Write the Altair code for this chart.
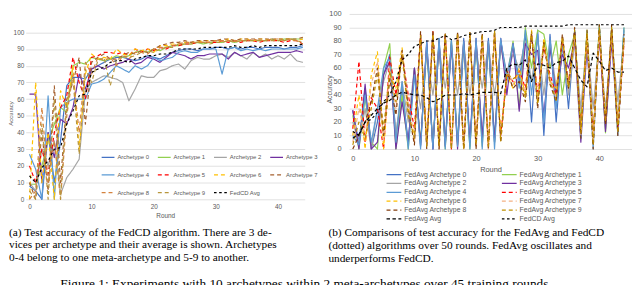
import altair as alt
import pandas as pd

# ---------------- data: panel (a) FedCD, rounds 0-44 ----------------
rounds_a = list(range(45))
names_a = [f"Archetype {i}" for i in range(10)] + ["FedCD Avg"]
arch_a = {
    "Archetype 0": [8, 5, 0, 40, 10, 35, 68, 73, 73, 72, 78, 80, 82, 84, 85, 85, 84, 83, 84, 86, 85, 84, 86, 88, 89, 90, 90, 89, 90, 90, 91, 91, 90, 91, 90, 91, 91, 90, 91, 91, 91, 90, 91, 91, 92],
    "Archetype 1": [9, 9, 20, 35, 45, 55, 52, 80, 82, 81, 85, 84, 83, 84, 86, 85, 86, 88, 89, 88, 90, 89, 91, 92, 92, 93, 93, 94, 93, 94, 94, 94, 95, 94, 95, 95, 95, 95, 95, 96, 95, 96, 96, 96, 96],
    "Archetype 2": [10, 5, 30, 20, 35, 3, 13, 18, 24, 65, 70, 72, 74, 73, 72, 70, 59, 66, 74, 73, 73, 77, 78, 80, 81, 78, 83, 85, 84, 84, 86, 87, 85, 88, 86, 84, 88, 85, 87, 84, 86, 84, 87, 83, 82],
    "Archetype 3": [63, 63, 10, 40, 25, 48, 45, 55, 75, 66, 78, 80, 78, 80, 81, 82, 84, 81, 82, 85, 84, 82, 85, 88, 87, 86, 84, 86, 86, 87, 87, 87, 84, 88, 86, 87, 88, 85, 86, 87, 88, 88, 88, 89, 88],
    "Archetype 4": [27, 18, 0, 62, 0, 55, 58, 60, 60, 60, 69, 70, 72, 76, 80, 78, 76, 80, 78, 80, 85, 83, 84, 85, 88, 89, 88, 88, 90, 90, 90, 75, 90, 91, 89, 90, 89, 90, 89, 90, 90, 90, 90, 90, 91],
    "Archetype 5": [20, 10, 30, 15, 40, 55, 62, 85, 70, 60, 85, 86, 88, 88, 87, 88, 86, 90, 88, 90, 89, 91, 90, 92, 92, 93, 93, 94, 94, 94, 94, 95, 94, 95, 94, 95, 95, 94, 95, 95, 95, 94, 95, 95, 93],
    "Archetype 6": [0, 70, 10, 40, 0, 65, 55, 80, 30, 75, 87, 84, 85, 84, 90, 87, 86, 90, 89, 90, 88, 92, 92, 93, 93, 94, 94, 94, 95, 95, 95, 95, 96, 95, 96, 96, 95, 96, 96, 95, 96, 96, 96, 95, 96],
    "Archetype 7": [10, 0, 40, 5, 68, 10, 60, 70, 85, 45, 82, 85, 87, 84, 84, 86, 88, 87, 89, 88, 90, 92, 93, 94, 94, 95, 94, 95, 95, 95, 95, 96, 96, 95, 96, 96, 96, 96, 96, 96, 96, 96, 96, 96, 97],
    "Archetype 8": [0, 5, 55, 10, 35, 0, 50, 75, 40, 82, 75, 85, 83, 85, 80, 86, 84, 88, 88, 87, 90, 91, 91, 92, 93, 94, 94, 94, 94, 94, 95, 95, 95, 95, 95, 95, 96, 95, 95, 96, 96, 95, 96, 95, 93],
    "Archetype 9": [5, 0, 45, 0, 60, 0, 58, 72, 27, 78, 70, 83, 85, 68, 83, 86, 85, 86, 88, 89, 88, 90, 91, 91, 93, 93, 93, 94, 94, 93, 94, 94, 95, 94, 95, 95, 95, 95, 95, 95, 95, 95, 96, 95, 94],
    "FedCD Avg": [14, 10, 19, 23, 30, 31, 45, 53, 62, 63, 76, 78, 79, 82, 83, 83, 82, 84, 85, 86, 86, 87, 87, 88, 90, 90, 90, 90, 91, 91, 91, 91, 91, 92, 91, 91, 92, 91, 92, 92, 92, 92, 92, 92, 93],
}
colors_a = ["#4472C4", "#92D050", "#A5A5A5", "#7030A0", "#5B9BD5",
            "#FF0000", "#FFC000", "#A5602F", "#D4823E", "#B8963C", "#000000"]

# ---------------- data: panel (b) FedAvg vs FedCD, rounds 0-44 ----------------
rounds_b = list(range(45))
names_b = [f"FedAvg Archetype {i}" for i in range(10)] + ["FedAvg Avg", "FedCD Avg"]
arch_b = {
    "FedAvg Archetype 0": [28, 5, 45, 0, 20, 55, 70, 10, 45, 5, 60, 2, 78, 0, 82, 3, 80, 5, 82, 2, 80, 5, 82, 8, 80, 55, 78, 50, 85, 20, 88, 10, 85, 20, 78, 30, 87, 10, 85, 5, 90, 15, 85, 20, 88],
    "FedAvg Archetype 1": [25, 0, 38, 5, 0, 60, 78, 0, 40, 0, 58, 5, 75, 2, 80, 0, 80, 3, 78, 0, 80, 2, 78, 5, 80, 50, 80, 30, 90, 60, 88, 85, 60, 80, 40, 70, 85, 20, 88, 10, 92, 12, 90, 12, 90],
    "FedAvg Archetype 2": [20, 5, 30, 0, 30, 50, 65, 10, 50, 20, 60, 30, 70, 40, 75, 45, 75, 40, 78, 40, 75, 45, 78, 40, 75, 55, 70, 60, 80, 50, 82, 40, 80, 45, 78, 40, 80, 30, 82, 30, 80, 30, 82, 35, 80],
    "FedAvg Archetype 3": [29, 0, 48, 0, 5, 55, 65, 0, 35, 5, 60, 3, 80, 0, 80, 2, 78, 0, 80, 5, 82, 8, 80, 5, 82, 40, 78, 28, 78, 70, 73, 25, 75, 40, 70, 60, 80, 5, 75, 8, 85, 13, 80, 15, 82],
    "FedAvg Archetype 4": [10, 3, 40, 5, 30, 60, 68, 5, 50, 0, 55, 0, 80, 0, 82, 0, 81, 2, 80, 0, 82, 0, 80, 0, 82, 50, 78, 45, 88, 40, 85, 20, 82, 30, 80, 45, 88, 8, 82, 0, 90, 20, 88, 10, 90],
    "FedAvg Archetype 5": [15, 65, 5, 38, 30, 0, 68, 40, 70, 40, 15, 85, 5, 87, 3, 85, 0, 85, 2, 85, 5, 84, 3, 85, 10, 55, 50, 58, 45, 85, 40, 75, 55, 40, 80, 50, 85, 15, 82, 10, 85, 20, 88, 15, 78],
    "FedAvg Archetype 6": [10, 40, 0, 55, 72, 0, 55, 45, 75, 30, 10, 82, 5, 85, 5, 83, 2, 83, 0, 84, 3, 82, 2, 85, 12, 55, 45, 60, 40, 88, 35, 82, 50, 45, 82, 45, 84, 12, 85, 8, 88, 25, 85, 20, 82],
    "FedAvg Archetype 7": [5, 30, 10, 48, 65, 5, 60, 30, 72, 35, 5, 83, 3, 86, 0, 84, 2, 84, 0, 85, 2, 83, 0, 86, 8, 60, 48, 56, 42, 86, 38, 78, 52, 38, 84, 48, 85, 10, 84, 5, 87, 22, 86, 18, 80],
    "FedAvg Archetype 8": [0, 10, 20, 35, 60, 10, 52, 25, 73, 30, 3, 87, 0, 88, 0, 86, 0, 87, 0, 87, 0, 86, 0, 87, 5, 58, 45, 50, 35, 85, 30, 80, 48, 35, 85, 45, 90, 8, 88, 0, 92, 18, 92, 10, 85],
    "FedAvg Archetype 9": [3, 20, 8, 30, 55, 15, 58, 35, 70, 25, 8, 84, 2, 85, 2, 85, 0, 86, 0, 86, 3, 85, 2, 88, 6, 56, 52, 55, 38, 87, 33, 79, 50, 36, 83, 46, 88, 12, 86, 3, 90, 20, 90, 12, 83],
}
fedavg_avg_b = [8, 11, 20, 25, 30, 34, 36, 40, 42, 41, 40, 40, 38, 35, 37, 40, 40, 40, 41, 40, 41, 42, 42, 42, 41, 60, 63, 62, 66, 50, 63, 62, 60, 64, 65, 69, 60, 51, 46, 71, 65, 58, 60, 57, 57]
fedcd_avg_b = [13, 10, 20, 22, 27, 35, 40, 50, 66, 70, 76, 78, 80, 80, 82, 84, 81, 82, 84, 85, 86, 87, 87, 88, 90, 90, 90, 90, 91, 91, 91, 91, 91, 91, 91, 92, 92, 92, 92, 92, 92, 92, 92, 92, 92]
colors_b = ["#4472C4", "#92D050", "#A5A5A5", "#7030A0", "#5B9BD5",
            "#FF0000", "#FFC000", "#F4B183", "#843C0C", "#BF9000", "#000000", "#000000"]

caption_a = ("(a) Test accuracy of the FedCD algorithm. There are 3 de-\n"
             "vices per archetype and their average is shown. Archetypes\n"
             "0-4 belong to one meta-archetype and 5-9 to another.")
caption_b = ("(b) Comparisons of test accuracy for the FedAvg and FedCD\n"
             "(dotted) algorithms over 50 rounds. FedAvg oscillates and\n"
             "underperforms FedCD.")
fig_caption = "Figure 1: Experiments with 10 archetypes within 2 meta-archetypes over 45 training rounds."

# ---------------- tables ----------------
rows = []
for n in names_a:
    for r, v in zip(rounds_a, arch_a[n]):
        rows.append({"round": r, "acc": v, "series": n})
df_a = pd.DataFrame(rows)

rows = []
for n in names_b:
    if n == "FedAvg Avg":
        vals = fedavg_avg_b
    elif n == "FedCD Avg":
        vals = fedcd_avg_b
    else:
        vals = arch_b[n]
    for r, v in zip(rounds_b, vals):
        rows.append({"round": r, "acc": v, "series": n})
df_b = pd.DataFrame(rows)

SOLID = [1, 0]
DASH = [4, 3]
DOT = [2.6, 2.6]
SQ = [3.5, 2.5]
dash_a = [SOLID] * 5 + [DASH] * 5 + [DOT]
width_a = [1.2] * 10 + [2.8]
dash_b = [SOLID] * 5 + [DASH] * 5 + [SQ, DOT]
width_b = [1.2] * 10 + [3.5, 2.8]

SANS = "Liberation Sans"
SERIF = "Liberation Serif"
GREY = "#595959"
GRID = "#D9D9D9"


def panel(df, names, colors, dashes, widths, xdom, ydom, w, h, fs, ytx, yty, xty,
          lab_pad_y, lab_pad_x, legend):
    xaxis = alt.Axis(values=[0, 10, 20, 30, 40], title="Round", grid=False, ticks=False,
                     domain=False, labelFont=SANS, labelFontSize=fs, labelColor=GREY,
                     labelPadding=lab_pad_x, titleFont=SANS, titleFontSize=fs,
                     titleFontWeight="normal", titleColor=GREY, titleY=xty,
                     titleBaseline="middle")
    yaxis = alt.Axis(values=list(range(0, 101, 10)), title="Accuracy", grid=True,
                     gridColor=GRID, gridWidth=0.8, ticks=False, domain=False,
                     labelFont=SANS, labelFontSize=fs, labelColor=GREY,
                     labelPadding=lab_pad_y, titleFont=SANS, titleFontSize=fs - 0.5,
                     titleFontWeight="normal", titleColor=GREY, titleX=ytx, titleY=yty,
                     titleAngle=270, titleBaseline="middle", titleAlign="center")
    return alt.Chart(df).mark_line(strokeJoin="round").encode(
        x=alt.X("round:Q", scale=alt.Scale(domain=xdom, nice=False, zero=False), axis=xaxis),
        y=alt.Y("acc:Q", scale=alt.Scale(domain=ydom, nice=False), axis=yaxis),
        color=alt.Color("series:N", scale=alt.Scale(domain=names, range=colors), legend=legend),
        strokeDash=alt.StrokeDash("series:N", scale=alt.Scale(domain=names, range=dashes), legend=legend),
        strokeWidth=alt.StrokeWidth("series:N", scale=alt.Scale(domain=names, range=widths), legend=legend),
    ).properties(width=w, height=h)


def text_layer(txt, x, y, size, baseline="middle", lh=12.3):
    return alt.Chart(pd.DataFrame({"t": [txt]})).mark_text(
        font=SERIF, fontSize=size, align="left", baseline=baseline, lineBreak="\n",
        lineHeight=lh, color="#000000"
    ).encode(text="t:N", x=alt.value(x), y=alt.value(y))


leg_a = alt.Legend(title=None, orient="none", legendX=76, legendY=136.5, columns=4,
                   direction="horizontal", clipHeight=17.3,
                   columnPadding=7, rowPadding=0, symbolType="stroke", symbolSize=169,
                   labelFont=SANS, labelFontSize=6, labelColor=GREY, labelOffset=2,
                   padding=0, labelLimit=200)
leg_b = alt.Legend(title=None, orient="none", legendX=37, legendY=159, columns=2,
                   direction="horizontal", clipHeight=7.8,
                   columnPadding=34, rowPadding=0, symbolType="stroke", symbolSize=225,
                   labelFont=SANS, labelFontSize=7, labelColor=GREY, labelOffset=2,
                   padding=0, labelLimit=200)

lines_a = panel(df_a, names_a, colors_a, dash_a, width_a, [-0.6, 44.3], [0, 111], 283, 188,
                6.5, -15, 100.5, 16.5, 2, 4, leg_a)
lines_b = panel(df_b, names_b, colors_b, dash_b, width_b, [-0.6, 45.3], [0, 100], 287, 137,
                7.5, -20, 76, 20.5, 8, 6, leg_b)

left = alt.layer(
    lines_a,
    text_layer(caption_a, -17, 222.5, 11.5),
    text_layer(fig_caption, 35, 277.5, 13.5, baseline="alphabetic"),
)
right = alt.layer(
    lines_b,
    text_layer(caption_b, -21, 222.5, 11.5, lh=13),
)

chart = alt.hconcat(left, right, spacing=45, bounds="flush").resolve_scale(
    color="independent", strokeDash="independent", strokeWidth="independent"
).resolve_legend(
    color="independent", strokeDash="independent", strokeWidth="independent"
).configure_view(stroke=None).properties(padding=0)

chart.save("out.html", embed_options={"renderer": "svg", "actions": False})
